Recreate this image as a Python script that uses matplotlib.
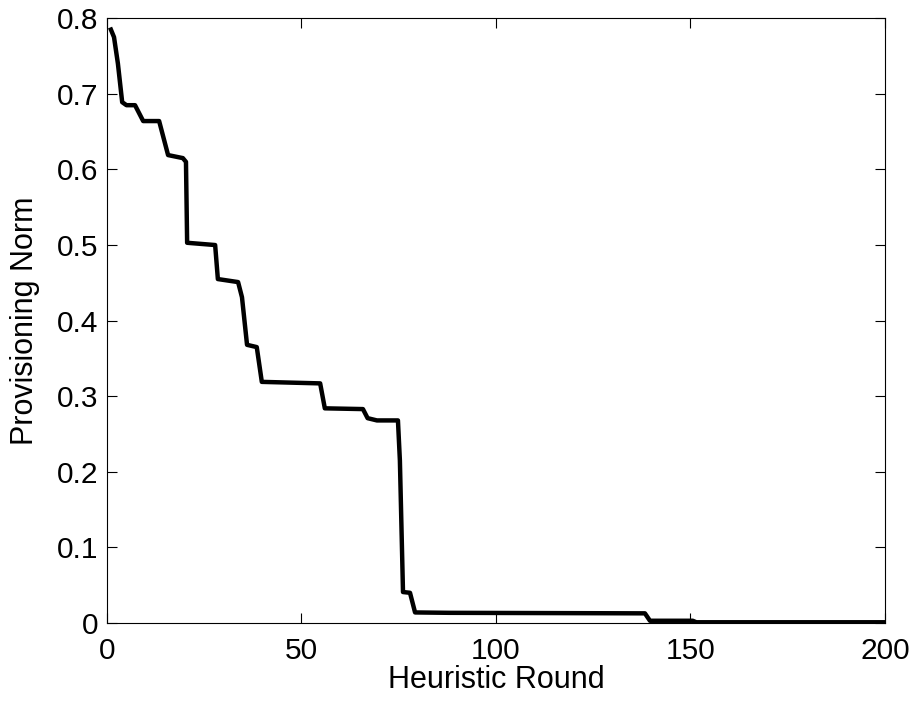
import numpy as np
import matplotlib
matplotlib.use("Agg")
import matplotlib.pyplot as plt

# step-like decay of the provisioning norm
rounds = [1, 1.8, 2.8, 3.9, 5, 7.2, 9.3, 13.4, 15.7, 19.5, 20.3, 20.6,
          27.8, 28.5, 33.7, 34.7, 36, 38.5, 39.8, 54.8, 56, 65.8, 67,
          69.4, 74.8, 75.3, 76.1, 77.9, 79.2, 88, 138.3, 139.6, 150.6,
          151.5, 200]
norm = [0.785, 0.775, 0.74, 0.689, 0.685, 0.685, 0.664, 0.664, 0.619,
        0.615, 0.61, 0.503, 0.50, 0.455, 0.451, 0.431, 0.368, 0.365,
        0.319, 0.317, 0.284, 0.283, 0.271, 0.268, 0.268, 0.215, 0.041,
        0.04, 0.014, 0.0135, 0.0128, 0.003, 0.003, 0.001, 0.001]

plt.rcParams['font.family'] = ['Liberation Sans', 'DejaVu Sans']

fig = plt.figure(figsize=(9.17, 7.02), dpi=100)
ax = fig.add_axes([0.1167, 0.1125, 0.8483, 0.8615])

ax.plot(rounds, norm, color='black', linewidth=3.2, solid_joinstyle='round')

ax.set_xlim(0, 200)
ax.set_ylim(0, 0.8)
ax.set_xticks([0, 50, 100, 150, 200])
ax.set_yticks(np.arange(0, 0.81, 0.1))
ax.set_yticklabels(['0', '0.1', '0.2', '0.3', '0.4', '0.5', '0.6', '0.7', '0.8'])
ax.tick_params(direction='in', top=True, right=True, labelsize=21.5,
               length=7, width=0.8)
ax.tick_params(axis='x', pad=10)
ax.tick_params(axis='y', pad=6.5)
for s in ax.spines.values():
    s.set_linewidth(0.8)

ax.set_xlabel("Heuristic Round", fontsize=22, labelpad=0)
ax.set_ylabel("Provisioning Norm", fontsize=22, labelpad=12)

fig.savefig("out.png", dpi=100)
